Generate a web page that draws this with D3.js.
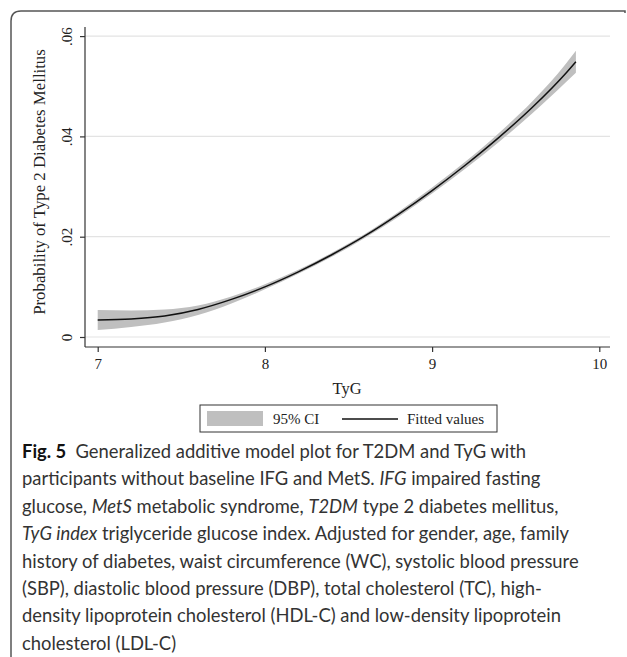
<!DOCTYPE html>
<html>
<head>
<meta charset="utf-8">
<script src="https://cdn.jsdelivr.net/npm/d3@7"></script>
<style>
  body { margin: 0; background: #fff; }
  svg { display: block; }
</style>
</head>
<body>
<svg width="627" height="657"></svg>
<script>
// values
let tyg = [7.0, 7.2, 7.4, 7.6, 7.8, 8.0, 8.2, 8.4, 8.6, 8.8, 9.0, 9.2, 9.4, 9.6, 9.8, 9.86]
let fitted = [0.0034, 0.0036, 0.0042, 0.0055, 0.0075, 0.0100, 0.0130, 0.0164, 0.0202, 0.0245, 0.0292, 0.0343, 0.0398, 0.0458, 0.0526, 0.0549]
let ciLow = [0.0014, 0.0020, 0.0029, 0.0044, 0.0067, 0.0095, 0.0126, 0.0160, 0.0198, 0.0240, 0.0286, 0.0336, 0.0389, 0.0446, 0.0508, 0.0527]
let ciHigh = [0.0054, 0.0053, 0.0055, 0.0063, 0.0081, 0.0105, 0.0134, 0.0168, 0.0206, 0.0250, 0.0298, 0.0350, 0.0407, 0.0470, 0.0545, 0.0571]
let xTicks = [7, 8, 9, 10]
let yTicks = [0, 0.02, 0.04, 0.06]
let yTickLabels = ['0', '.02', '.04', '.06']
let legendLabels = ['95% CI', 'Fitted values']

let captionLines = [
  [['b', 'Fig. 5'], ['n', '\u2002Generalized additive model plot for T2DM and TyG with']],
  [['n', 'participants without baseline IFG and MetS. '], ['i', 'IFG'], ['n', ' impaired fasting']],
  [['n', 'glucose, '], ['i', 'MetS'], ['n', ' metabolic syndrome, '], ['i', 'T2DM'], ['n', ' type 2 diabetes mellitus,']],
  [['i', 'TyG index'], ['n', ' triglyceride glucose index. Adjusted for gender, age, family']],
  [['n', 'history of diabetes, waist circumference (WC), systolic blood pressure']],
  [['n', '(SBP), diastolic blood pressure (DBP), total cholesterol (TC), high-']],
  [['n', 'density lipoprotein cholesterol (HDL-C) and low-density lipoprotein']],
  [['n', 'cholesterol (LDL-C)']]
]

let rows = tyg.map((t, i) => ({t: t, fit: fitted[i], lo: ciLow[i], hi: ciHigh[i]}))

let svg = d3.select('svg')
let serif = '"Liberation Serif", "Times New Roman", serif'
let sans = 'Lato, "Open Sans", sans-serif'

// outer frame (top + left, rounded corner)
svg.append('path')
  .attr('d', 'M11,657 V21 Q11,11 21,11 H625 V13')
  .attr('fill', 'none')
  .attr('stroke', '#555')
  .attr('stroke-width', 1.5)

let x = d3.scaleLinear().domain([7, 10]).range([97.7, 599.3])
let y = d3.scaleLinear().domain([0, 0.06]).range([337, 36.1])

let plotLeft = 85, plotRight = 610, plotTop = 27, plotBottom = 347

// gridlines
svg.append('g').selectAll('line')
  .data(yTicks)
  .join('line')
  .attr('x1', plotLeft).attr('x2', plotRight)
  .attr('y1', d => y(d)).attr('y2', d => y(d))
  .attr('stroke', '#e3e3e3')
  .attr('stroke-width', 1.2)

// confidence band
svg.append('path')
  .datum(rows)
  .attr('d', d3.area()
    .x(d => x(d.t))
    .y0(d => y(d.lo))
    .y1(d => y(d.hi))
    .curve(d3.curveMonotoneX))
  .attr('fill', '#bfbfbf')

// fitted line
svg.append('path')
  .datum(rows)
  .attr('d', d3.line()
    .x(d => x(d.t))
    .y(d => y(d.fit))
    .curve(d3.curveMonotoneX))
  .attr('fill', 'none')
  .attr('stroke', '#111')
  .attr('stroke-width', 1.5)

// axes
let xAxis = svg.append('g')
  .attr('transform', `translate(0,${plotBottom})`)
  .call(d3.axisBottom(x).tickValues(xTicks).tickSize(5).tickPadding(6).tickFormat(d3.format('d')))
xAxis.select('.domain').attr('d', `M${plotLeft},0H${plotRight}`)

let yAxis = svg.append('g')
  .attr('transform', `translate(${plotLeft},0)`)
  .call(d3.axisLeft(y).tickValues(yTicks).tickSize(5).tickFormat((d, i) => yTickLabels[i]))
yAxis.select('.domain').attr('d', `M0,${plotTop}V${plotBottom}`)
yAxis.selectAll('.tick text')
  .attr('x', null).attr('dy', null)
  .attr('transform', 'translate(-13,0) rotate(-90)')
  .attr('text-anchor', 'middle')

svg.selectAll('.domain, .tick line').attr('stroke', '#333').attr('stroke-width', 1.2)
svg.selectAll('.tick text')
  .attr('font-family', serif)
  .attr('font-size', 15)
  .attr('fill', '#222')

// axis titles
svg.append('text')
  .attr('x', 347).attr('y', 394)
  .attr('text-anchor', 'middle')
  .attr('font-family', serif).attr('font-size', 16.5).attr('fill', '#222')
  .text('TyG')

svg.append('text')
  .attr('transform', 'translate(45,182) rotate(-90)')
  .attr('text-anchor', 'middle')
  .attr('font-family', serif).attr('font-size', 16.8).attr('fill', '#222')
  .text('Probability of Type 2 Diabetes Mellitus')

// legend
let lg = svg.append('g').attr('transform', 'translate(200,405)')
lg.append('rect')
  .attr('x', 0).attr('y', 0).attr('width', 297).attr('height', 27)
  .attr('fill', 'none').attr('stroke', '#333').attr('stroke-width', 1)
lg.append('rect')
  .attr('x', 7).attr('y', 6).attr('width', 56).attr('height', 15)
  .attr('fill', '#bfbfbf')
lg.append('text')
  .attr('x', 73).attr('y', 19)
  .attr('font-family', serif).attr('font-size', 15).attr('fill', '#222')
  .text(legendLabels[0])
lg.append('line')
  .attr('x1', 142).attr('x2', 198).attr('y1', 14).attr('y2', 14)
  .attr('stroke', '#111').attr('stroke-width', 1.3)
lg.append('text')
  .attr('x', 207).attr('y', 19)
  .attr('font-family', serif).attr('font-size', 15).attr('fill', '#222')
  .text(legendLabels[1])

// caption
let cap = svg.append('text')
  .attr('font-family', sans)
  .attr('font-size', 18.4)
  .attr('fill', '#333')
captionLines.forEach(function (line, i) {
  let first = true
  line.forEach(function (part) {
    let ts = cap.append('tspan').text(part[1])
    if (first) {
      ts.attr('x', 22).attr('y', 458 + i * 27.4)
      first = false
    }
    if (part[0] === 'b') ts.attr('font-weight', 'bold').attr('fill', '#111')
    if (part[0] === 'i') ts.attr('font-style', 'italic')
  })
})
</script>
</body>
</html>
